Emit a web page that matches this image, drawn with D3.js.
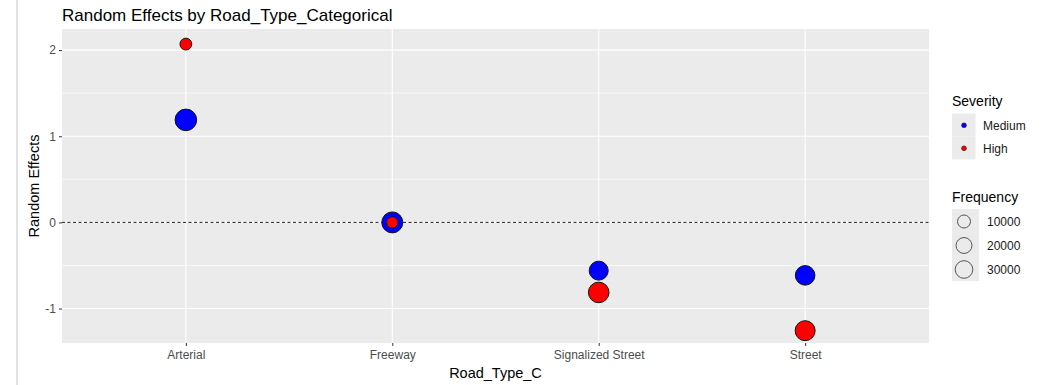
<!DOCTYPE html>
<html>
<head>
<meta charset="utf-8">
<script src="https://cdn.jsdelivr.net/npm/d3@7"></script>
<style>
  html, body { margin: 0; padding: 0; background: #ffffff; }
  svg { display: block; font-family: "Liberation Sans", Arial, sans-serif; }
</style>
</head>
<body>
<div id="chart"></div>
<script>
// Road types on the x axis
const roadTypes = ["Arterial", "Freeway", "Signalized Street", "Street"];

// Random effect estimates per severity level
const mediumEffects = [1.19, 0.0, -0.56, -0.615];
const highEffects   = [2.07, 0.0, -0.813, -1.257];

// Number of crashes behind each estimate
const mediumFreq = [66500, 60000, 40800, 46100];
const highFreq   = [8700, 8600, 55800, 49800];

// Legend entries
const severityLevels = ["Medium", "High"];
const severityColors = ["#0000FF", "#FF0000"];
const freqBreaks = [10000, 20000, 30000];
const yTicks = [-1, 0, 1, 2];
const yMinor = [-0.5, 0.5, 1.5];

const W = 1045, H = 385;
const panel = { left: 62, right: 929, top: 29, bottom: 343 };

const svg = d3.select("#chart").append("svg")
  .attr("width", W).attr("height", H);

// thin rule down the left edge of the figure
svg.append("line")
  .attr("x1", 17).attr("x2", 17).attr("y1", 0).attr("y2", H)
  .attr("stroke", "#d9d9d9").attr("stroke-width", 1.5);

const x = d3.scalePoint().domain(roadTypes)
  .range([panel.left, panel.right]).padding(0.6);
const y = d3.scaleLinear().domain([-1.40, 2.245])
  .range([panel.bottom, panel.top]);

// size scale: radius grows with the square root of the rescaled frequency
const allFreq = mediumFreq.concat(highFreq);
const freqNorm = d3.scaleLinear().domain(d3.extent(allFreq)).range([0, 1]);
const radius = d3.scaleLinear().domain([0, 1]).range([5.7, 10.8]);
const rOf = f => radius(Math.sqrt(Math.max(0, freqNorm(f))));

// panel background and grid
svg.append("rect")
  .attr("x", panel.left).attr("y", panel.top)
  .attr("width", panel.right - panel.left).attr("height", panel.bottom - panel.top)
  .attr("fill", "#EBEBEB");

const grid = svg.append("g");
grid.selectAll("line.minor").data(yMinor).join("line")
  .attr("class", "minor")
  .attr("x1", panel.left).attr("x2", panel.right)
  .attr("y1", d => y(d)).attr("y2", d => y(d))
  .attr("stroke", "#fff").attr("stroke-width", 0.6);
grid.selectAll("line.majorY").data(yTicks).join("line")
  .attr("class", "majorY")
  .attr("x1", panel.left).attr("x2", panel.right)
  .attr("y1", d => y(d)).attr("y2", d => y(d))
  .attr("stroke", "#fff").attr("stroke-width", 1.1);
grid.selectAll("line.majorX").data(roadTypes).join("line")
  .attr("class", "majorX")
  .attr("y1", panel.top).attr("y2", panel.bottom)
  .attr("x1", d => x(d)).attr("x2", d => x(d))
  .attr("stroke", "#fff").attr("stroke-width", 1.1);

// axes (plain hyphen for negative labels)
const yAxis = svg.append("g")
  .attr("transform", `translate(${panel.left},0)`)
  .call(d3.axisLeft(y).tickValues(yTicks).tickSize(3).tickPadding(3).tickFormat(d => String(d)));
const xAxis = svg.append("g")
  .attr("transform", `translate(0,${panel.bottom})`)
  .call(d3.axisBottom(x).tickSize(3).tickPadding(4));
[yAxis, xAxis].forEach(a => {
  a.select(".domain").remove();
  a.selectAll(".tick line").attr("stroke", "#333").attr("stroke-width", 1);
  a.selectAll(".tick text").attr("fill", "#4D4D4D")
    .style("font-size", "12px").style("font-family", "Liberation Sans, Arial, sans-serif");
});

// reference line at zero
svg.append("line")
  .attr("x1", panel.left).attr("x2", panel.right)
  .attr("y1", y(0)).attr("y2", y(0))
  .attr("stroke", "#222").attr("stroke-width", 1)
  .attr("stroke-dasharray", "3,2.5");

// points: medium first, high drawn on top
const points = [];
roadTypes.forEach((r, i) => points.push({ road: r, value: mediumEffects[i], freq: mediumFreq[i], color: severityColors[0] }));
roadTypes.forEach((r, i) => points.push({ road: r, value: highEffects[i], freq: highFreq[i], color: severityColors[1] }));

svg.append("g").selectAll("circle").data(points).join("circle")
  .attr("cx", d => x(d.road))
  .attr("cy", d => y(d.value))
  .attr("r", d => rOf(d.freq))
  .attr("fill", d => d.color)
  .attr("stroke", "#111").attr("stroke-width", 1);

// titles
svg.append("text").attr("x", 62).attr("y", 20.5)
  .attr("fill", "#000").style("font-size", "17px")
  .text("Random Effects by Road_Type_Categorical");
svg.append("text").attr("x", (panel.left + panel.right) / 2).attr("y", 378)
  .attr("text-anchor", "middle").attr("fill", "#000").style("font-size", "14.5px")
  .text("Road_Type_C");
svg.append("text")
  .attr("transform", `translate(39,${(panel.top + panel.bottom) / 2}) rotate(-90)`)
  .attr("text-anchor", "middle").attr("fill", "#000").style("font-size", "14.5px")
  .text("Random Effects");

// legend: severity
const leg1 = svg.append("g");
leg1.append("text").attr("x", 952).attr("y", 106)
  .attr("fill", "#000").style("font-size", "14px").text("Severity");
severityLevels.forEach((s, i) => {
  const ky = 113.5 + i * 23;
  leg1.append("rect").attr("x", 952).attr("y", ky).attr("width", 23.5).attr("height", 23)
    .attr("fill", "#EBEBEB");
  leg1.append("circle").attr("cx", 964).attr("cy", ky + 11.8).attr("r", 2.4)
    .attr("fill", severityColors[i]).attr("stroke", "#111").attr("stroke-width", 0.6);
  leg1.append("text").attr("x", 983).attr("y", ky + 11.8).attr("dy", "0.35em")
    .attr("fill", "#1a1a1a").style("font-size", "12px").text(s);
});

// legend: frequency
const leg2 = svg.append("g");
leg2.append("text").attr("x", 952).attr("y", 202)
  .attr("fill", "#000").style("font-size", "14px").text("Frequency");
freqBreaks.forEach((f, i) => {
  const ky = 209 + i * 24;
  leg2.append("rect").attr("x", 952).attr("y", ky).attr("width", 27).attr("height", 24)
    .attr("fill", "#EBEBEB");
  leg2.append("circle").attr("cx", 964).attr("cy", ky + 12.5).attr("r", rOf(f))
    .attr("fill", "none").attr("stroke", "#555").attr("stroke-width", 1);
  leg2.append("text").attr("x", 987).attr("y", ky + 12.5).attr("dy", "0.35em")
    .attr("fill", "#1a1a1a").style("font-size", "12px").text(d3.format("d")(f));
});
</script>
</body>
</html>
